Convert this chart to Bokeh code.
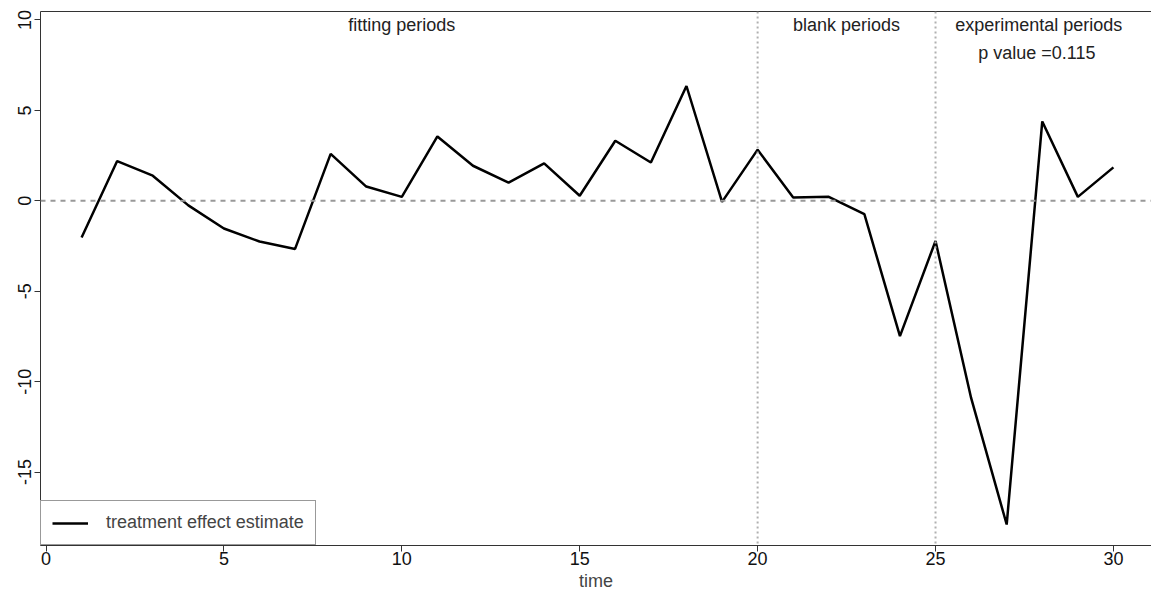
import math
from bokeh.plotting import figure
from bokeh.models import Span, Legend, LegendItem, LinearAxis, Range1d, FixedTicker
from bokeh.core.properties import value
from bokeh.embed import file_html
from bokeh.resources import INLINE

time = list(range(1, 31))
effect = [-2.03, 2.2, 1.39, -0.25, -1.53, -2.25, -2.66, 2.6, 0.79, 0.22,
          3.56, 1.94, 1.01, 2.07, 0.28, 3.32, 2.12, 6.35, -0.06, 2.83,
          0.18, 0.22, -0.74, -7.48, -2.22, -10.9, -17.9, 4.39, 0.22, 1.85]
x_ticks = [0, 5, 10, 15, 20, 25, 30]
y_ticks = [-15, -10, -5, 0, 5, 10]
y_tick_labels = ["-15", "-10", "-5", "0", "5", "10"]
period_breaks = [20, 25]
period_labels = ["fitting periods", "blank periods", "experimental periods"]
period_label_x = [10, 22.5, 27.9]
p_value_text = "p value =0.115"

FONT = "Liberation Sans"
FS = "18px"

p = figure(width=1151, height=593, output_backend="svg", toolbar_location=None,
           x_range=Range1d(-0.155, 31.07), y_range=Range1d(-19.06, 10.47),
           min_border_left=40, min_border_right=0, min_border_top=11, min_border_bottom=0)
p.grid.visible = False
p.outline_line_color = None
p.background_fill_color = "white"
p.border_fill_color = "white"

for ax in (p.xaxis[0], p.yaxis[0]):
    ax.axis_line_color = "#333333"
    ax.major_tick_line_color = "#333333"
    ax.major_tick_out = 6
    ax.major_tick_in = 0
    ax.minor_tick_line_color = None
    ax.major_label_text_font = FONT
    ax.major_label_text_font_size = FS
    ax.major_label_text_color = "#111111"
p.xaxis[0].ticker = FixedTicker(ticks=x_ticks)
p.yaxis[0].ticker = FixedTicker(ticks=y_ticks)
p.yaxis[0].major_label_overrides = {t: s for t, s in zip(y_ticks, y_tick_labels)}
p.yaxis[0].major_label_orientation = "vertical"
p.xaxis[0].axis_label = "time"
p.xaxis[0].axis_label_text_font = FONT
p.xaxis[0].axis_label_text_font_size = FS
p.xaxis[0].axis_label_text_font_style = "normal"
p.xaxis[0].axis_label_standoff = 3
p.xaxis[0].major_label_standoff = 0
p.yaxis[0].major_label_standoff = 3

top = LinearAxis(ticker=FixedTicker(ticks=[]), major_tick_line_color=None,
                 minor_tick_line_color=None, axis_line_color="#333333",
                 major_label_standoff=0)
p.add_layout(top, "above")

p.add_layout(Span(location=0, dimension="width", line_color="#999999",
                  line_dash="5 5", line_width=2))
for b in period_breaks:
    p.add_layout(Span(location=b, dimension="height", line_color="#b0b0b0",
                      line_dash="2 3", line_width=2))

r = p.line(time, effect, line_color="black", line_width=2.5)

p.text(x=period_label_x, y=[9.7] * 3, text=period_labels, text_font=value(FONT),
       text_font_size=FS, text_align="center", text_baseline="middle",
       text_color="#222222")
p.text(x=[27.85], y=[8.15], text=[p_value_text], text_font=value(FONT),
       text_font_size=FS, text_align="center", text_baseline="middle",
       text_color="#222222")

legend = Legend(items=[LegendItem(label="treatment effect estimate", renderers=[r])],
                location="bottom_left", margin=0, padding=11, label_standoff=18,
                glyph_width=36, label_text_font=FONT, label_text_font_size=FS,
                border_line_color="#333333", border_line_width=1,
                background_fill_alpha=1)
p.add_layout(legend)

open("out.html", "w").write(file_html(p, INLINE))
